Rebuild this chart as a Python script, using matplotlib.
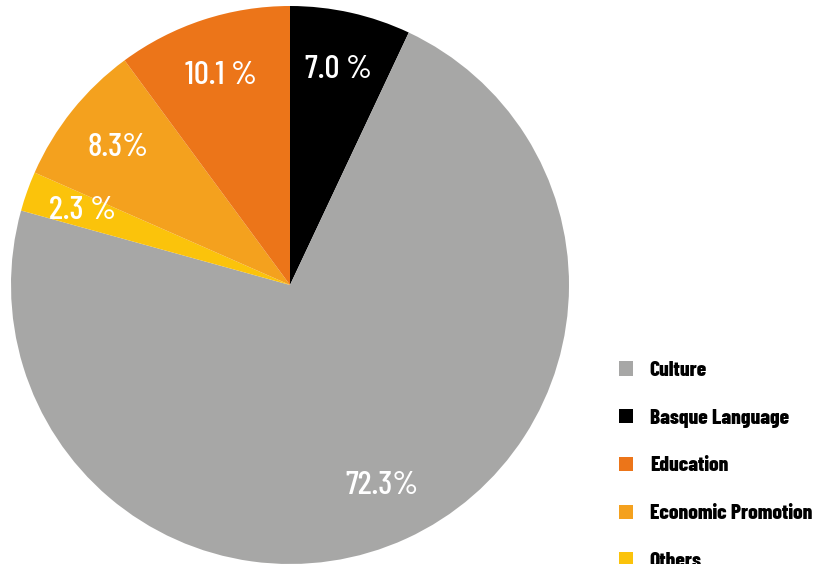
import numpy as np
import matplotlib
matplotlib.use("Agg")
import matplotlib.pyplot as plt

# Budget share by area (percent), in clockwise order from 12 o'clock
categories = ["Basque Language", "Culture", "Others", "Economic Promotion", "Education"]
shares = [7.0, 72.3, 2.3, 8.3, 10.1]
pct_labels = ["7.0 %", "72.3%", "2.3 %", "8.3%", "10.1 %"]
colors = ["#000000", "#A7A7A6", "#FBC30B", "#F4A11E", "#EC7519"]

# Order of entries in the legend
legend_order = ["Culture", "Basque Language", "Education", "Economic Promotion", "Others"]

W, H = 813, 564
fig = plt.figure(figsize=(W / 100, H / 100), dpi=100)
ax = fig.add_axes([0, 0, 1, 1])

center = (290, H - 285)
radius = 279
wedges, _ = ax.pie(shares, colors=colors, startangle=90, counterclock=False,
                   center=center, radius=radius,
                   wedgeprops=dict(linewidth=0))
ax.set_xlim(0, W)
ax.set_ylim(0, H)
ax.set_aspect("equal", adjustable="box")
ax.axis("off")

# Percentage labels inside each wedge
for w, txt in zip(wedges, pct_labels):
    mid = np.deg2rad((w.theta1 + w.theta2) / 2)
    r = 0.79 * radius
    ax.text(center[0] + r * np.cos(mid), center[1] + r * np.sin(mid), txt,
            ha="center", va="center", color="white",
            family="Barlow Condensed", weight="medium", fontsize=24)

handles = {c: w for c, w in zip(categories, wedges)}
leg = fig.legend([handles[c] for c in legend_order], legend_order,
                 loc="upper left", bbox_to_anchor=(619 / W, 1 - 361 / H),
                 frameon=False, borderpad=0, borderaxespad=0,
                 handlelength=0.65, handleheight=0.65, handletextpad=0.8,
                 labelspacing=1.35,
                 prop=dict(family="Barlow Condensed", weight="heavy", size=15.3))

fig.savefig("out.png", dpi=100)
